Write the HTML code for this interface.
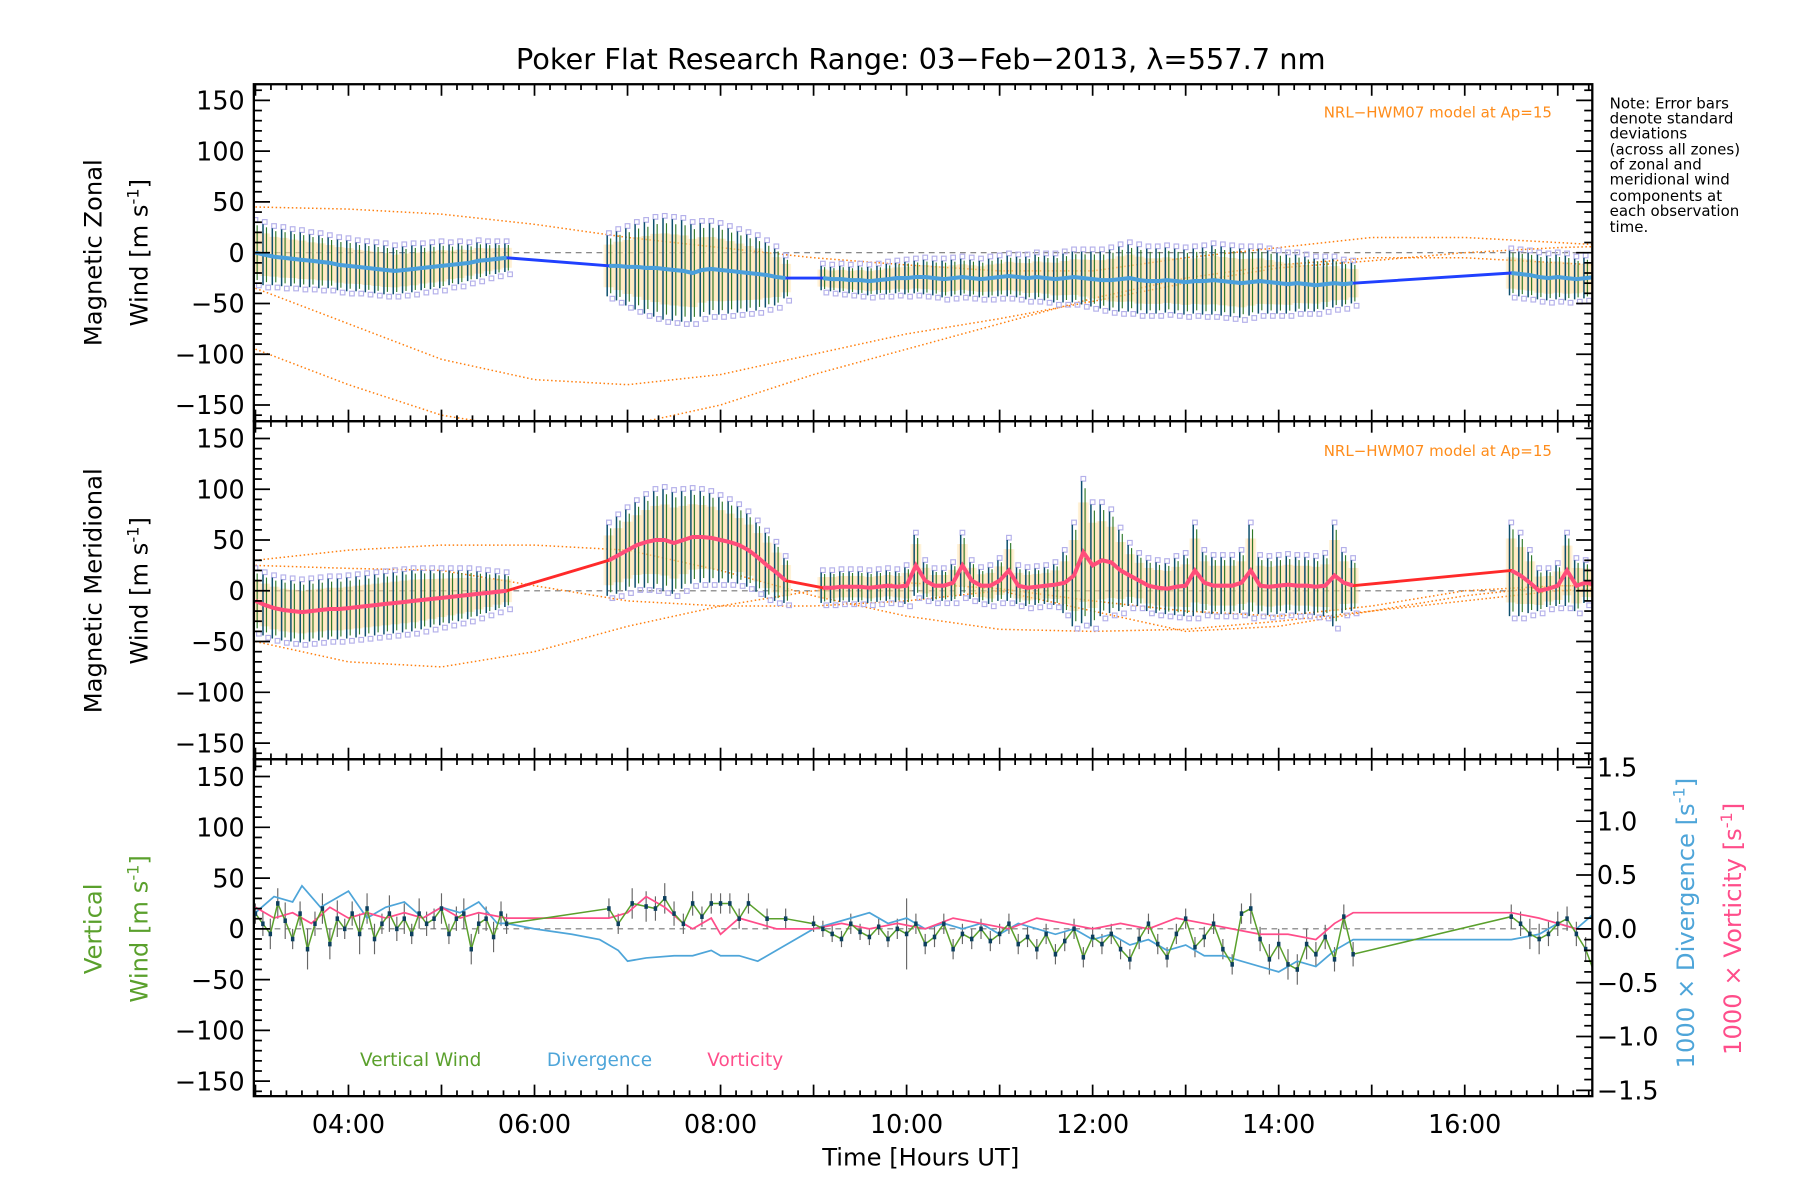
<!DOCTYPE html>
<html><head><meta charset="utf-8"><style>
html,body{margin:0;padding:0;background:#fff}
svg{display:block}
text{font-family:"DejaVu Sans","Liberation Sans",sans-serif}
</style></head><body>
<svg id="chart" width="1800" height="1200" viewBox="0 0 1560 1040" xmlns="http://www.w3.org/2000/svg">
<rect width="1560" height="1040" fill="#fff"/>
<text x="798" y="60" font-size="25" text-anchor="middle">Poker Flat Research Range: 03−Feb−2013, λ=557.7 nm</text>
<g id="layers"></g>
<g font-size="13">
<text x="1395" y="94">Note: Error bars</text><text x="1395" y="107">denote standard</text><text x="1395" y="120">deviations</text><text x="1395" y="134">(across all zones)</text><text x="1395" y="147">of zonal and</text><text x="1395" y="160">meridional wind</text><text x="1395" y="174">components at</text><text x="1395" y="187">each observation</text><text x="1395" y="201">time.</text>
</g>
<text x="1345" y="102" font-size="13" fill="#ff8c1a" text-anchor="end">NRL−HWM07 model at Ap=15</text>
<text x="1345" y="395" font-size="13" fill="#ff8c1a" text-anchor="end">NRL−HWM07 model at Ap=15</text>
<text transform="translate(88,219) rotate(-90)" font-size="21" text-anchor="middle">Magnetic  Zonal</text>
<text transform="translate(128,219) rotate(-90)" font-size="21" text-anchor="middle">Wind  [m s<tspan dy="-8" font-size="14">-1</tspan><tspan dy="8">]</tspan></text>
<text transform="translate(88,512) rotate(-90)" font-size="21" text-anchor="middle">Magnetic  Meridional</text>
<text transform="translate(128,512) rotate(-90)" font-size="21" text-anchor="middle">Wind  [m s<tspan dy="-8" font-size="14">-1</tspan><tspan dy="8">]</tspan></text>
<text transform="translate(88,805) rotate(-90)" font-size="21" text-anchor="middle" fill="#5aa02c">Vertical</text>
<text transform="translate(128,805) rotate(-90)" font-size="21" text-anchor="middle" fill="#5aa02c">Wind  [m s<tspan dy="-8" font-size="14">-1</tspan><tspan dy="8">]</tspan></text>
<text transform="translate(1468,800) rotate(-90)" font-size="21" text-anchor="middle" fill="#4ea5d9">1000 × Divergence [s<tspan dy="-8" font-size="14">-1</tspan><tspan dy="8">]</tspan></text>
<text transform="translate(1509,805) rotate(-90)" font-size="21" text-anchor="middle" fill="#ff4d8a">1000 × Vorticity [s<tspan dy="-8" font-size="14">-1</tspan><tspan dy="8">]</tspan></text>
<text x="798" y="1010" font-size="21" text-anchor="middle">Time [Hours UT]</text>
<text x="312" y="924" font-size="16" fill="#5aa02c">Vertical Wind</text>
<text x="474" y="924" font-size="16" fill="#4ea5d9">Divergence</text>
<text x="613" y="924" font-size="16" fill="#ff4d8a">Vorticity</text>
</svg>
<script>
// ---- data arrays ----
const xTickLabels = ["04:00","06:00","08:00","10:00","12:00","14:00","16:00"];
const xTickHours = [4,6,8,10,12,14,16];
const yTickValues = [150,100,50,0,-50,-100,-150];
const rightTickValues = [1.5,1.0,0.5,0.0,-0.5,-1.0,-1.5];
const rightTickLabels = ["1.5","1.0","0.5","0.0","−0.5","−1.0","−1.5"];

const zTimesA = [3.0,3.1,3.2,3.3,3.4,3.5,3.6,3.7,3.8,3.9,4.0,4.1,4.2,4.3,4.4,4.5,4.6,4.7,4.8,4.9,5.0,5.1,5.2,5.3,5.4,5.5,5.6,5.7];
const zMeanA = [0,-2,-4,-5,-6,-7,-8,-9,-10,-12,-13,-14,-15,-16,-17,-18,-17,-16,-15,-14,-13,-12,-11,-10,-8,-7,-6,-5];
const zErrA = [30,30,28,28,27,27,26,26,25,25,25,24,24,24,24,23,23,23,22,22,22,20,20,18,18,16,15,14];
const zTimesB = [6.8,6.9,7.0,7.1,7.2,7.3,7.4,7.5,7.6,7.7,7.8,7.9,8.0,8.1,8.2,8.3,8.4,8.5,8.6,8.7];
const zMeanB = [-13,-13,-14,-14,-15,-15,-16,-17,-18,-20,-17,-16,-17,-18,-19,-20,-21,-22,-24,-25];
const zErrB = [30,34,38,42,45,48,50,50,50,48,46,45,44,42,40,38,36,32,28,20];
const zTimesC = [9.1,9.2,9.3,9.4,9.5,9.6,9.7,9.8,9.9,10.0,10.1,10.2,10.3,10.4,10.5,10.6,10.7,10.8,10.9,11.0,11.1,11.2,11.3,11.4,11.5,11.6,11.7,11.8,11.9,12.0,12.1,12.2,12.3,12.4,12.5,12.6,12.7,12.8,12.9,13.0,13.1,13.2,13.3,13.4,13.5,13.6,13.7,13.8,13.9,14.0,14.1,14.2,14.3,14.4,14.5,14.6,14.7,14.8];
const zMeanC = [-25,-26,-26,-27,-27,-28,-27,-26,-25,-25,-24,-24,-25,-26,-25,-24,-25,-26,-25,-24,-23,-24,-25,-24,-25,-26,-25,-24,-25,-26,-27,-27,-26,-25,-27,-28,-28,-27,-28,-29,-28,-28,-27,-28,-29,-30,-29,-28,-29,-30,-31,-30,-31,-32,-31,-30,-31,-30];
const zErrC = [12,12,13,13,14,14,14,15,15,16,16,17,17,18,18,18,18,18,19,19,20,20,21,22,22,23,24,25,26,27,28,30,32,33,33,32,32,32,32,32,32,33,34,34,34,34,33,32,31,30,29,28,27,26,25,24,22,20];
const zTimesD = [16.5,16.6,16.7,16.8,16.9,17.0,17.1,17.2,17.3,17.4];
const zMeanD = [-20,-21,-22,-24,-25,-24,-25,-26,-25,-24];
const zErrD = [22,22,22,22,22,22,22,20,20,18];

const mTimesA = zTimesA;
const mMeanA = [-10,-14,-17,-19,-20,-21,-20,-19,-18,-18,-17,-16,-15,-14,-13,-12,-11,-10,-9,-8,-7,-6,-5,-4,-3,-2,-1,0];
const mErrA = [30,30,30,30,30,30,30,30,30,30,30,30,30,30,30,30,30,30,29,28,27,26,25,24,22,20,18,16];
const mTimesB = zTimesB;
const mMeanB = [30,35,40,45,48,50,50,47,50,53,53,52,50,48,45,40,33,25,18,10];
const mErrB = [35,38,40,42,45,48,50,50,48,46,45,44,42,40,38,36,34,32,28,22];
const mTimesC = zTimesC;
const mMeanC = [3,3,4,4,4,3,4,5,4,5,25,10,5,5,8,25,10,5,5,10,20,5,3,4,5,6,8,15,38,25,30,28,20,15,10,5,3,2,4,5,20,8,5,5,5,8,20,5,4,5,6,5,5,4,5,15,8,5];
const mErrC = [15,15,15,15,15,15,15,15,15,18,30,18,15,15,18,30,18,16,18,20,30,18,18,18,18,20,30,50,70,60,55,50,40,30,25,25,25,25,28,30,45,30,28,28,28,30,45,28,28,28,28,28,28,28,30,50,30,25];
const mTimesD = zTimesD;
const mMeanD = [20,15,8,0,2,5,20,5,8,6];
const mErrD = [45,40,30,20,18,20,35,25,20,18];

const mod1Times = [3,4,5,6,7,8,9,10,11,12,13,14,15,16,17,17.4];
const zonalModel1 = [-35,-70,-105,-125,-130,-120,-100,-80,-65,-48,-30,-15,-8,0,5,6];
const zonalModel2 = [-95,-130,-160,-175,-170,-150,-120,-95,-70,-45,-25,-12,-5,-5,-10,-12];
const zonalModel3 = [45,43,38,28,15,5,-5,-12,-18,-18,-5,5,15,15,10,8];
const meridModel1 = [-50,-70,-75,-60,-35,-15,0,8,2,-10,-20,-25,-15,0,5,5];
const meridModel2 = [30,40,45,45,40,20,-5,-25,-38,-40,-38,-30,-20,-5,5,5];
const meridModel3 = [25,22,20,5,-10,-15,-15,-10,0,-20,-40,-35,-20,-10,0,2];

const vTimes = [3.0,3.08,3.16,3.24,3.32,3.4,3.48,3.56,3.64,3.72,3.8,3.88,3.96,4.04,4.12,4.2,4.28,4.36,4.44,4.52,4.6,4.68,4.76,4.84,4.92,5.0,5.08,5.16,5.24,5.32,5.4,5.48,5.56,5.64,5.7,
 6.8,6.9,7.05,7.2,7.3,7.4,7.5,7.6,7.7,7.8,7.9,8.0,8.1,8.2,8.3,8.5,8.7,
 9.0,9.1,9.2,9.3,9.4,9.5,9.6,9.7,9.8,9.9,10.0,10.1,10.2,10.3,10.4,10.5,10.6,10.7,10.8,10.9,11.0,11.1,11.2,11.3,11.4,11.5,11.6,11.7,11.8,11.9,12.0,12.1,12.2,12.3,12.4,12.5,12.6,12.7,12.8,12.9,13.0,13.1,13.2,13.3,13.4,13.5,13.6,13.7,13.8,13.9,14.0,14.1,14.2,14.3,14.4,14.5,14.6,14.7,14.8,
 16.5,16.6,16.7,16.8,16.9,17.0,17.1,17.2,17.3,17.4];
const vWind = [15,5,-5,25,8,-10,15,-20,5,20,-15,10,0,15,-5,20,-10,5,15,0,10,-5,15,5,10,20,-5,10,15,-20,5,10,-8,15,5,
 20,5,25,22,20,30,15,5,25,12,25,25,25,10,25,10,10,
 5,0,-5,-10,5,-3,-8,2,-10,0,-5,5,-15,-8,5,-20,-5,-10,0,-12,-5,5,-15,-8,-20,-5,-25,-12,0,-28,-8,-15,-5,-20,-30,-10,5,-15,-28,-5,10,-18,-8,5,-20,-35,15,20,-10,-30,-15,-35,-40,-15,-25,-8,-30,12,-25,
 12,5,-5,-10,-5,5,10,-5,-20,-45];
const vErr = [10,12,15,15,18,10,12,20,12,15,15,18,10,12,20,15,15,10,18,12,15,10,15,12,10,15,10,12,15,15,10,12,15,12,10,
 10,10,15,15,12,15,12,10,12,10,10,10,10,10,10,10,10,
 8,8,8,8,10,8,8,8,8,10,35,10,10,10,10,10,10,10,10,10,10,10,10,10,10,10,10,10,10,10,10,10,10,10,10,10,10,10,10,10,10,10,10,10,10,10,10,15,12,15,15,15,15,15,12,12,12,12,12,12,12,
 15,15,12,12,12,12,12,12,12,12];

const divTimes = [3.0,3.2,3.4,3.5,3.7,3.9,4.0,4.2,4.4,4.6,4.8,5.0,5.2,5.4,5.6,5.7,6.0,6.4,6.7,6.9,7.0,7.2,7.5,7.7,7.9,8.0,8.2,8.4,8.6,8.8,9.0,9.2,9.4,9.6,9.8,10.0,10.2,10.4,10.6,10.8,11.0,11.2,11.4,11.6,11.8,12.0,12.2,12.4,12.6,12.8,13.0,13.2,13.4,13.6,13.8,14.0,14.2,14.4,14.6,14.8,15.5,16.5,16.8,17.0,17.2,17.4];
const divergence = [0.15,0.3,0.25,0.4,0.2,0.3,0.35,0.1,0.2,0.25,0.1,0.2,0.15,0.25,0.05,0.05,0.0,-0.05,-0.1,-0.2,-0.3,-0.27,-0.25,-0.25,-0.2,-0.25,-0.25,-0.3,-0.2,-0.1,0.0,0.05,0.1,0.15,0.05,0.1,0.0,0.05,0.0,0.05,-0.05,0.05,0.0,-0.05,0.0,-0.1,-0.05,-0.15,-0.1,-0.2,-0.15,-0.25,-0.25,-0.3,-0.35,-0.4,-0.3,-0.35,-0.2,-0.1,-0.1,-0.1,-0.05,0.05,0.0,0.15];
const vortTimes = [3.0,3.2,3.4,3.6,3.8,4.0,4.2,4.4,4.6,4.8,5.0,5.2,5.4,5.7,6.8,7.0,7.2,7.4,7.6,7.7,7.9,8.0,8.2,8.4,8.6,8.8,9.0,9.3,9.6,9.9,10.2,10.5,10.8,11.1,11.4,11.7,12.0,12.3,12.6,12.9,13.2,13.5,13.8,14.1,14.4,14.6,14.8,15.5,16.5,16.8,17.0,17.2,17.4];
const vorticity = [0.2,0.1,0.15,0.05,0.2,0.1,0.15,0.1,0.15,0.1,0.2,0.1,0.15,0.1,0.1,0.15,0.3,0.2,0.05,0.0,0.1,-0.05,0.1,0.05,0.0,0.0,0.0,0.05,0.0,0.05,0.0,0.1,0.05,0.0,0.1,0.05,0.0,0.05,0.0,0.1,0.05,0.0,-0.05,-0.05,-0.1,0.05,0.15,0.15,0.15,0.1,0.05,0.0,0.0];

// ---- axes ----
const NS = "http://www.w3.org/2000/svg";
const L = 220, R = 1380;
const panels = [{top:73,bot:365,zero:219},{top:365,bot:658,zero:512},{top:658,bot:950,zero:805}];
function xs(h){ return 302 + (h - 4) * 80.62; }
function ys(p, v){ return panels[p].zero - v * 0.88; }
function yr(v){ return 805 - v * 93.3; }
const layers = document.getElementById('layers');
function mk(tag, attrs, parent){
  const e = document.createElementNS(NS, tag);
  for (const k in attrs) e.setAttribute(k, attrs[k]);
  (parent || layers).appendChild(e);
  return e;
}
function clipFor(p){
  const cp = mk('clipPath', {id:'clip'+p});
  mk('rect', {x:L, y:panels[p].top, width:R-L, height:panels[p].bot-panels[p].top}, cp);
}
[0,1,2].forEach(clipFor);

function poly(p, times, vals, color, width, dash, yf){
  const pts = times.map((t,i)=> xs(t).toFixed(1)+','+(yf?yf(vals[i]):ys(p,vals[i])).toFixed(1)).join(' ');
  return mk('polyline', {points:pts, fill:'none', stroke:color, 'stroke-width':width, 'stroke-dasharray':dash||'none', 'clip-path':'url(#clip'+p+')'});
}

[0,1,2].forEach(p=>{
  const l = mk('line', {x1:L, x2:R, y1:ys(p,0), y2:ys(p,0), stroke:'#777', 'stroke-width':1, 'stroke-dasharray':'5,4'});
  
  
});

[[0,zonalModel1],[0,zonalModel2],[0,zonalModel3],[1,meridModel1],[1,meridModel2],[1,meridModel3]].forEach(([p,arr])=>{
  const e = poly(p, mod1Times, arr, '#ff7f0e', 1.3, '1.3,2.2');
  
  
});

function bars(p, times, mean, err){
  const g = mk('g', {'clip-path':'url(#clip'+p+')'});
  
  
  times.forEach((t,i)=>{
    const x = xs(t), yT = ys(p, mean[i]+err[i]), yB = ys(p, mean[i]-err[i]);
    for (let k=-2;k<=2;k++){
      mk('rect', {x:x+k*1.6-1.5, y:ys(p,mean[i]+err[i]*0.7), width:3, height:Math.abs(yB-yT)*0.7, fill: k%2? '#ffc890':'#ffe0a0', opacity:0.4}, g);
    }
    mk('rect', {x:x-2, y:yT-4, width:4, height:4, fill:'none', stroke:'#b4b0ea', 'stroke-width':1}, g);
    mk('rect', {x:x+1, y:yB, width:4, height:4, fill:'none', stroke:'#b4b0ea', 'stroke-width':1}, g);
    mk('line', {x1:x-1.5, x2:x-1.5, y1:yT, y2:yB, stroke:'#0c4f6e', 'stroke-width':1.3}, g);
    mk('line', {x1:x+1.5, x2:x+1.5, y1:ys(p,mean[i]+err[i]*0.9), y2:ys(p,mean[i]-err[i]*0.9), stroke:'#2f7a2a', 'stroke-width':1}, g);
  });
}
bars(0,zTimesA,zMeanA,zErrA); bars(0,zTimesB,zMeanB,zErrB); bars(0,zTimesC,zMeanC,zErrC); bars(0,zTimesD,zMeanD,zErrD);
bars(1,mTimesA,mMeanA,mErrA); bars(1,mTimesB,mMeanB,mErrB); bars(1,mTimesC,mMeanC,mErrC); bars(1,mTimesD,mMeanD,mErrD);

const zT = zTimesA.concat(zTimesB, zTimesC, zTimesD), zM = zMeanA.concat(zMeanB, zMeanC, zMeanD);
let e = poly(0, zT, zM, '#2040ff', 2.5);  
[[zTimesA,zMeanA],[zTimesB,zMeanB],[zTimesC,zMeanC],[zTimesD,zMeanD]].forEach(([t,m])=>{
  const s = poly(0, t, m, '#4a9fdc', 3.5);
  
  
});
const mT = mTimesA.concat(mTimesB, mTimesC, mTimesD), mM = mMeanA.concat(mMeanB, mMeanC, mMeanD);
e = poly(1, mT, mM, '#ff2a2a', 2.5);  
[[mTimesA,mMeanA],[mTimesB,mMeanB],[mTimesC,mMeanC],[mTimesD,mMeanD]].forEach(([t,m])=>{
  const s = poly(1, t, m, '#ff4d7a', 3.5);
  
  
});

const vg = mk('g', {'clip-path':'url(#clip2)'});


vTimes.forEach((t,i)=>{
  mk('line', {x1:xs(t), x2:xs(t), y1:ys(2,vWind[i]+vErr[i]), y2:ys(2,vWind[i]-vErr[i]), stroke:'#666', 'stroke-width':1}, vg);
});
e = poly(2, divTimes, divergence, '#4ea5d9', 1.5, null, yr);  
e = poly(2, vortTimes, vorticity, '#ff4d8a', 1.5, null, yr);  
e = poly(2, vTimes, vWind, '#5aa02c', 1.3);  
vTimes.forEach((t,i)=>{
  const d = mk('rect', {x:xs(t)-1.5, y:ys(2,vWind[i])-2, width:3, height:4, fill:'#0c3f5e', 'clip-path':'url(#clip2)'});
  
  
});

panels.forEach((pn,p)=>{
  const f = mk('rect', {x:L, y:pn.top, width:R-L, height:pn.bot-pn.top, fill:'none', stroke:'#000', 'stroke-width':2});
  
  
  for (let v=-160; v<=160; v+=10){
    const y = ys(p,v); if (y<pn.top+1 || y>pn.bot-1) continue;
    const len = v%50===0 ? 14 : 7;
    mk('line', {x1:L, x2:L+len, y1:y, y2:y, stroke:'#000', 'stroke-width':1.5});
    if (p<2) mk('line', {x1:R, x2:R-len, y1:y, y2:y, stroke:'#000', 'stroke-width':1.5});
  }
  for (let m=180; m<=17.4*60; m+=10){
    const x = xs(m/60); if (x<L+1 || x>R-1) continue;
    const len = m%60===0 ? 10 : 5;
    mk('line', {x1:x, x2:x, y1:pn.bot, y2:pn.bot-len, stroke:'#000', 'stroke-width':1.5});
    mk('line', {x1:x, x2:x, y1:pn.top, y2:pn.top+len, stroke:'#000', 'stroke-width':1.5});
  }
  yTickValues.forEach(v=>{
    const t = mk('text', {x:212, y:ys(p,v)+8, 'font-size':22, 'text-anchor':'end'});
    t.textContent = v<0 ? '−'+Math.abs(v) : String(v);
    
    
  });
});
for (let v=-1.5; v<=1.51; v+=0.1){
  const y = yr(v); if (y<659 || y>949) continue;
  const major = Math.abs(Math.round(v*10)%5)===0;
  mk('line', {x1:R, x2:R-(major?14:7), y1:y, y2:y, stroke:'#000', 'stroke-width':1.5});
}
rightTickValues.forEach((v,i)=>{
  const t = mk('text', {x:1384, y:yr(v)+8, 'font-size':22});
  t.textContent = rightTickLabels[i];
  
  
});
xTickHours.forEach((h,i)=>{
  const t = mk('text', {x:xs(h), y:982, 'font-size':22, 'text-anchor':'middle'});
  t.textContent = xTickLabels[i];
  
  
});
</script>
</body></html>
